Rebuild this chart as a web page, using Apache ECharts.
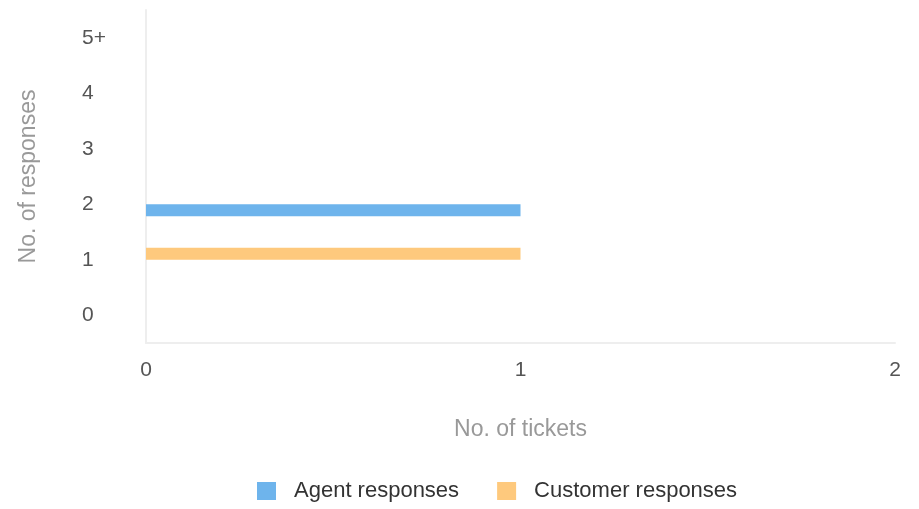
<!DOCTYPE html>
<html>
<head>
<meta charset="utf-8">
<script src="https://cdn.jsdelivr.net/npm/echarts@6/dist/echarts.min.js"></script>
<style>
  html, body { margin: 0; padding: 0; background: #fff; }
  #chart { width: 919px; height: 509px; }
</style>
</head>
<body>
<div id="chart"></div>
<script>
// categories on the y axis (bottom to top)
const responseBuckets = ['0', '1', '2', '3', '4', '5+']
const seriesNames = ['Agent responses', 'Customer responses']
// ticket counts per bucket
const agentTickets = [0, 0, 1, 0, 0, 0]
const customerTickets = [0, 1, 0, 0, 0, 0]

const chart = echarts.init(document.getElementById('chart'))

const fontFamily = 'Liberation Sans, Helvetica, Arial, sans-serif'

chart.setOption({
  animation: false,
  textStyle: { fontFamily: fontFamily },
  grid: { left: 146, right: 24, top: 10, bottom: 166 },
  legend: {
    bottom: 2,
    left: 252,
    itemWidth: 19,
    itemHeight: 18,
    itemGap: 38,
    icon: 'rect',
    textStyle: { fontSize: 22, color: '#333', fontFamily: fontFamily, padding: [0, 0, 0, 13] },
    data: seriesNames
  },
  xAxis: {
    type: 'value',
    min: 0,
    max: 2,
    interval: 1,
    name: 'No. of tickets',
    nameLocation: 'middle',
    nameGap: 75,
    nameTextStyle: { fontSize: 23, color: '#999', fontFamily: fontFamily },
    axisLine: { show: true, lineStyle: { color: '#eeeeee', width: 2 } },
    axisTick: { show: false },
    splitLine: { show: false },
    axisLabel: { fontSize: 21, color: '#555', margin: 17, fontFamily: fontFamily }
  },
  yAxis: {
    type: 'category',
    data: responseBuckets,
    name: 'No. of responses',
    nameLocation: 'middle',
    nameGap: 106,
    nameTextStyle: { fontSize: 23, color: '#999', fontFamily: fontFamily },
    axisLine: { show: true, lineStyle: { color: '#eeeeee', width: 2 } },
    axisTick: { show: false },
    splitLine: { show: false },
    axisLabel: { fontSize: 21, color: '#555', margin: 64, align: 'left', padding: [8, 0, 0, 0], fontFamily: fontFamily }
  },
  // customer first so that its bar sits in the upper half of each band
  series: [
    {
      name: seriesNames[1],
      type: 'bar',
      data: customerTickets,
      barWidth: 12,
      barGap: '0%',
      itemStyle: { color: '#fec97d' }
    },
    {
      name: seriesNames[0],
      type: 'bar',
      data: agentTickets,
      barWidth: 12,
      barGap: '0%',
      itemStyle: { color: '#6eb4ec' }
    }
  ]
})
</script>
</body>
</html>
